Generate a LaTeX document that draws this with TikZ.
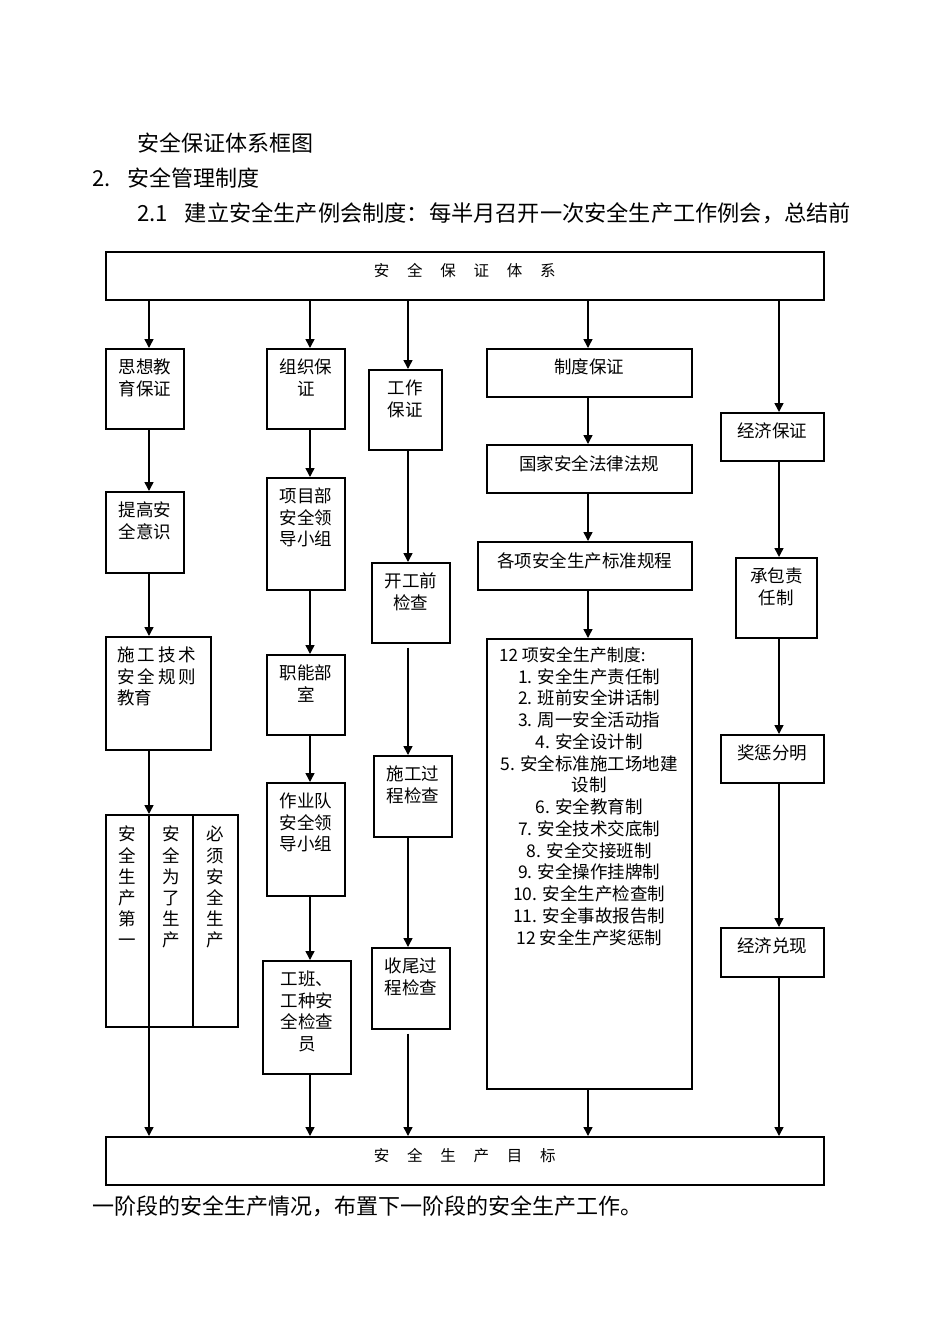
\documentclass[tikz,border=0pt]{standalone}
\usepackage{fontspec}
\newfontfamily\cjk{Noto Sans CJK SC}
\usetikzlibrary{arrows.meta,positioning}

\begin{document}
\begin{tikzpicture}[
  x=1pt, y=-1pt,
  box/.style={draw, line width=1.5pt, anchor=north west, inner sep=0pt},
  txt/.style={anchor=north, align=center, inner sep=0pt, yshift=-11pt, font=\cjk\fontsize{17.5}{21.5}\selectfont},
  ttl/.style={anchor=north, inner sep=0pt, yshift=-12pt, font=\cjk\fontsize{15.5}{18}\selectfont},
  vtxt/.style={anchor=north, align=center, inner sep=0pt, font=\cjk\fontsize{17.5}{21.2}\selectfont},
  head/.style={anchor=west, inner sep=0pt, font=\cjk\fontsize{22}{26}\selectfont},
  arr/.style={line width=1.5pt, -{Triangle[length=9pt,width=9pt]}}
]
  \useasboundingbox (0,0) rectangle (950,1344);

  % text above and below the chart
  \node[head] (cap) at (137,143) {安全保证体系框图};
  \node[head] (sec) at (92,178) {2.\hspace{17pt}安全管理制度};
  \node[head, font=\cjk\fontsize{22.2}{26}\selectfont] (par) at (137,213) {2.1\hspace{17pt}建立安全生产例会制度：每半月召开一次安全生产工作例会，总结前};
  \node[head] (cont) at (92,1206) {一阶段的安全生产情况，布置下一阶段的安全生产工作。};

  % column lines
  \coordinate (c1) at (149,0);
  \coordinate (c2) at (310,0);
  \coordinate (c3) at (408,0);
  \coordinate (c4) at (588,0);
  \coordinate (c5) at (779,0);
  \coordinate (d2) at (193,0);

  % top and bottom
  \node[box, minimum width=718pt, minimum height=48pt, label={[ttl]north:安\hspace{17.8pt}全\hspace{17.8pt}保\hspace{17.8pt}证\hspace{17.8pt}体\hspace{17.8pt}系}] (top) at (105,251) {};
  \node[box, minimum width=718pt, minimum height=48pt, label={[ttl]north:安\hspace{17.8pt}全\hspace{17.8pt}生\hspace{17.8pt}产\hspace{17.8pt}目\hspace{17.8pt}标}] (goal) at (105,1136) {};

  % 思想教育
  \node[box, minimum width=78pt, minimum height=80pt, label={[txt]north:思想教\\育保证}] (sx) at (105,348) {};
  \node[box, minimum width=78pt, minimum height=81pt, label={[txt]north:提高安\\全意识}] (tg) at (105,491) {};
  \node[box, minimum width=105pt, minimum height=113pt, label={[txt, anchor=north west, align=left, xshift=12pt]north west:施\,工\,技\,术\\安\,全\,规\,则\\教育}] (sj) at (105,636) {};
  \node[box, minimum width=132pt, minimum height=212pt] (sc) at (105,814) {};
  \node[vtxt] (sc-a) at (127,826) {安\\全\\生\\产\\第\\一};
  \node[vtxt] (sc-b) at (171,826) {安\\全\\为\\了\\生\\产};
  \node[vtxt] (sc-c) at (215,826) {必\\须\\安\\全\\生\\产};

  % 组织保证
  \node[box, minimum width=78pt, minimum height=80pt, label={[txt]north:组织保\\证}] (zz) at (266,348) {};
  \node[box, minimum width=78pt, minimum height=112pt, label={[txt]north:项目部\\安全领\\导小组}] (xm) at (266,477) {};
  \node[box, minimum width=78pt, minimum height=80pt, label={[txt]north:职能部\\室}] (zn) at (266,654) {};
  \node[box, minimum width=78pt, minimum height=113pt, label={[txt]north:作业队\\安全领\\导小组}] (zy) at (266,782) {};
  \node[box, minimum width=88pt, minimum height=113pt, label={[txt]north:工班、\\工种安\\全检查\\员}] (gb) at (262,960) {};

  % 工作保证
  \node[box, minimum width=73pt, minimum height=80pt, label={[txt]north:工作\\保证}] (gz) at (368,369) {};
  \node[box, minimum width=78pt, minimum height=80pt, label={[txt]north:开工前\\检查}] (kg) at (371,562) {};
  \node[box, minimum width=78pt, minimum height=81pt, label={[txt]north:施工过\\程检查}] (sg) at (373,755) {};
  \node[box, minimum width=78pt, minimum height=81pt, label={[txt]north:收尾过\\程检查}] (sw) at (371,947) {};

  % 制度保证
  \node[box, minimum width=205pt, minimum height=48pt, label={[txt]north:制度保证}] (zd) at (486,348) {};
  \node[box, minimum width=205pt, minimum height=48pt, label={[txt]north:国家安全法律法规}] (gj) at (486,444) {};
  \node[box, minimum width=214pt, minimum height=48pt, label={[txt]north:各项安全生产标准规程}] (gx) at (477,541) {};
  \node[box, minimum width=205pt, minimum height=450pt,
    label={[txt, anchor=north west, xshift=13pt, yshift=2pt, font=\cjk\fontsize{17}{21}\selectfont]north west:{12 项安全生产制度:}},
    label={[txt, yshift=-19pt, font=\cjk\fontsize{17.5}{21.75}\selectfont]north:{1. 安全生产责任制\\2. 班前安全讲话制\\3. 周一安全活动指\\4. 安全设计制\\5. 安全标准施工场地建\\设制\\6. 安全教育制\\7. 安全技术交底制\\8. 安全交接班制\\9. 安全操作挂牌制\\10. 安全生产检查制\\11. 安全事故报告制\\12 安全生产奖惩制}}] (zd12) at (486,638) {};

  % 经济保证
  \node[box, minimum width=103pt, minimum height=48pt, label={[txt]north:经济保证}] (jj) at (720,412) {};
  \node[box, minimum width=81pt, minimum height=80pt, label={[txt]north:承包责\\任制}] (cb) at (735,557) {};
  \node[box, minimum width=103pt, minimum height=48pt, label={[txt]north:奖惩分明}] (jc) at (720,734) {};
  \node[box, minimum width=103pt, minimum height=49pt, label={[txt]north:经济兑现}] (jx) at (720,927) {};

  % arrows
  \draw[arr] (top.south -| c1) -- (sx.north -| c1);
  \draw[arr] (sx.south -| c1) -- (tg.north -| c1);
  \draw[arr] (tg.south -| c1) -- (sj.north -| c1);
  \draw[arr] (sj.south -| c1) -- (sc.north -| c1);
  \draw[line width=1.5pt] (sc.north -| c1) -- (sc.south -| c1);
  \draw[line width=1.5pt] (sc.north -| d2) -- (sc.south -| d2);
  \draw[arr] (sc.south -| c1) -- (goal.north -| c1);

  \draw[arr] (top.south -| c2) -- (zz.north -| c2);
  \draw[arr] (zz.south -| c2) -- (xm.north -| c2);
  \draw[arr] (xm.south -| c2) -- (zn.north -| c2);
  \draw[arr] (zn.south -| c2) -- (zy.north -| c2);
  \draw[arr] (zy.south -| c2) -- (gb.north -| c2);
  \draw[arr] (gb.south -| c2) -- (goal.north -| c2);

  \draw[arr] (top.south -| c3) -- (gz.north -| c3);
  \draw[arr] (gz.south -| c3) -- (kg.north -| c3);
  \draw[arr, shorten <=4pt] (kg.south -| c3) -- (sg.north -| c3);
  \draw[arr] (sg.south -| c3) -- (sw.north -| c3);
  \draw[arr, shorten <=4pt] (sw.south -| c3) -- (goal.north -| c3);

  \draw[arr] (top.south -| c4) -- (zd.north -| c4);
  \draw[arr] (zd.south -| c4) -- (gj.north -| c4);
  \draw[arr] (gj.south -| c4) -- (gx.north -| c4);
  \draw[arr] (gx.south -| c4) -- (zd12.north -| c4);
  \draw[arr] (zd12.south -| c4) -- (goal.north -| c4);

  \draw[arr] (top.south -| c5) -- (jj.north -| c5);
  \draw[arr] (jj.south -| c5) -- (cb.north -| c5);
  \draw[arr] (cb.south -| c5) -- (jc.north -| c5);
  \draw[arr] (jc.south -| c5) -- (jx.north -| c5);
  \draw[arr] (jx.south -| c5) -- (goal.north -| c5);
\end{tikzpicture}
\end{document}
